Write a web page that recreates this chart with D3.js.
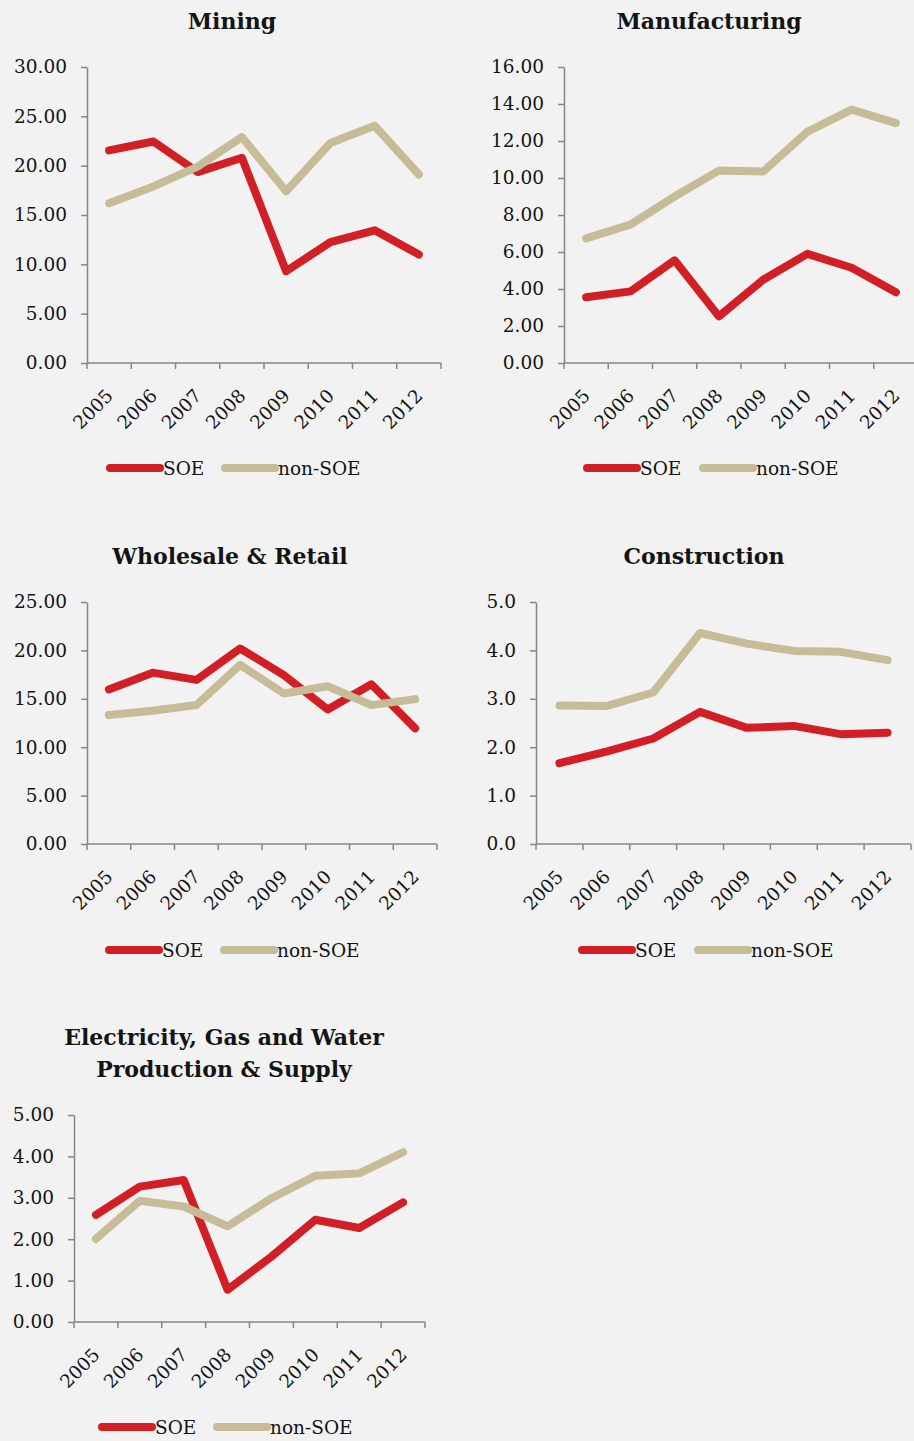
<!DOCTYPE html>
<html lang="en">
<head>
<meta charset="utf-8">
<title>SOE vs non-SOE by sector</title>
<script src="https://cdn.jsdelivr.net/npm/d3@7/dist/d3.min.js"></script>
<style>
  body { margin: 0; background: #f2f2f2; }
  svg { display: block; }
  text { font-family: "DejaVu Serif", "Liberation Serif", serif; fill: #141414; }
</style>
</head>
<body>
<script>
// data
var years = ["2005", "2006", "2007", "2008", "2009", "2010", "2011", "2012"];
var seriesNames = ["SOE", "non-SOE"];

var miningSOE    = [21.55, 22.45, 19.35, 20.8, 9.3, 12.25, 13.45, 11.0];
var miningNonSOE = [16.2, 17.9, 19.9, 22.9, 17.4, 22.3, 24.05, 19.1];

var manufSOE    = [3.55, 3.87, 5.55, 2.52, 4.5, 5.9, 5.15, 3.82];
var manufNonSOE = [6.74, 7.48, 9.0, 10.4, 10.35, 12.5, 13.7, 12.97];

var retailSOE    = [15.97, 17.7, 16.95, 20.2, 17.45, 13.9, 16.5, 11.95];
var retailNonSOE = [13.32, 13.77, 14.35, 18.5, 15.55, 16.3, 14.35, 14.97];

var constrSOE    = [1.67, 1.91, 2.18, 2.73, 2.4, 2.44, 2.27, 2.3];
var constrNonSOE = [2.86, 2.85, 3.13, 4.36, 4.14, 3.99, 3.97, 3.8];

var utilSOE    = [2.59, 3.27, 3.43, 0.78, 1.58, 2.47, 2.27, 2.89];
var utilNonSOE = [2.01, 2.93, 2.79, 2.31, 2.99, 3.53, 3.59, 4.1];

var miningTicks = [0, 5, 10, 15, 20, 25, 30];
var manufTicks  = [0, 2, 4, 6, 8, 10, 12, 14, 16];
var retailTicks = [0, 5, 10, 15, 20, 25];
var constrTicks = [0, 1, 2, 3, 4, 5];
var utilTicks   = [0, 1, 2, 3, 4, 5];

var colors = ["#d11f25", "#c6bc97"];

var svg = d3.select("body").append("svg")
    .attr("width", 914)
    .attr("height", 1441);

svg.append("rect").attr("width", 914).attr("height", 1441).attr("fill", "#f2f2f2");

function drawChart(opt) {
    var g = svg.append("g");

    var x = d3.scaleBand().domain(years).range([opt.left, opt.right]);
    var y = d3.scaleLinear()
        .domain([0, d3.max(opt.ticks)])
        .range([opt.bottom, opt.top]);

    // title
    opt.title.forEach(function (t, i) {
        g.append("text")
            .attr("x", opt.titleX)
            .attr("y", opt.titleY + i * 32)
            .attr("text-anchor", "middle")
            .style("font-size", "22px")
            .style("font-weight", "bold")
            .text(t);
    });

    // y axis
    var yAxis = g.append("g")
        .attr("transform", "translate(" + opt.left + ",0)")
        .call(d3.axisLeft(y)
            .tickValues(opt.ticks)
            .tickFormat(d3.format(opt.fmt))
            .tickSize(6)
            .tickSizeOuter(0)
            .tickPadding(14));
    yAxis.selectAll("path, line").attr("stroke", "#868686").attr("stroke-width", 1.5);
    yAxis.selectAll("text")
        .style("font-size", "18.5px")
        .style("font-family", "'DejaVu Serif', serif")
        .attr("fill", "#141414");

    // x axis: line plus boundary ticks between categories
    var xg = g.append("g");
    xg.append("line")
        .attr("x1", opt.left).attr("x2", opt.right)
        .attr("y1", opt.bottom).attr("y2", opt.bottom)
        .attr("stroke", "#868686").attr("stroke-width", 1.5);
    var bounds = years.map(function (d) { return x(d); }).concat([x(years[years.length - 1]) + x.bandwidth()]);
    xg.selectAll("line.tick")
        .data(bounds)
        .enter()
        .append("line")
        .attr("class", "tick")
        .attr("x1", function (d) { return d; })
        .attr("x2", function (d) { return d; })
        .attr("y1", opt.bottom)
        .attr("y2", opt.bottom + 6)
        .attr("stroke", "#868686").attr("stroke-width", 1.5);
    xg.selectAll("text")
        .data(years)
        .enter()
        .append("text")
        .attr("transform", function (d) {
            return "translate(" + (x(d) + x.bandwidth() / 2 + 5) + "," + (opt.bottom + 34) + ") rotate(-45)";
        })
        .attr("text-anchor", "end")
        .style("font-size", "18.5px")
        .text(function (d) { return d; });

    // lines
    var line = d3.line()
        .x(function (d, i) { return x(years[i]) + x.bandwidth() / 2; })
        .y(function (d) { return y(d); });

    [opt.soe, opt.nonSoe].forEach(function (vals, k) {
        g.append("path")
            .datum(vals)
            .attr("d", line)
            .attr("fill", "none")
            .attr("stroke", colors[k])
            .attr("stroke-width", 8)
            .attr("stroke-linejoin", "round")
            .attr("stroke-linecap", "round");
    });

    // legend
    var leg = g.selectAll("g.legend")
        .data(seriesNames)
        .enter()
        .append("g")
        .attr("transform", function (d, i) {
            return "translate(" + opt.legendX[i] + "," + opt.legendY + ")";
        });
    leg.append("line")
        .attr("x1", 0).attr("x2", 50)
        .attr("stroke", function (d, i) { return colors[i]; })
        .attr("stroke-width", 8)
        .attr("stroke-linecap", "round");
    leg.append("text")
        .attr("x", 53)
        .attr("y", 7)
        .style("font-size", "18.5px")
        .text(function (d) { return d; });
}

drawChart({
    title: ["Mining"], titleX: 232, titleY: 29,
    left: 87, right: 441, top: 67, bottom: 363,
    ticks: miningTicks, fmt: ".2f",
    soe: miningSOE, nonSoe: miningNonSOE,
    legendX: [110, 225], legendY: 468
});

drawChart({
    title: ["Manufacturing"], titleX: 709, titleY: 29,
    left: 564, right: 918, top: 67, bottom: 363,
    ticks: manufTicks, fmt: ".2f",
    soe: manufSOE, nonSoe: manufNonSOE,
    legendX: [587, 703], legendY: 468
});

drawChart({
    title: ["Wholesale & Retail"], titleX: 230, titleY: 564,
    left: 87, right: 437, top: 602, bottom: 844,
    ticks: retailTicks, fmt: ".2f",
    soe: retailSOE, nonSoe: retailNonSOE,
    legendX: [109, 224], legendY: 950
});

drawChart({
    title: ["Construction"], titleX: 704, titleY: 564,
    left: 536, right: 911, top: 602, bottom: 844,
    ticks: constrTicks, fmt: ".1f",
    soe: constrSOE, nonSoe: constrNonSOE,
    legendX: [582, 698], legendY: 950
});

drawChart({
    title: ["Electricity, Gas and Water", "Production & Supply"], titleX: 224, titleY: 1045,
    left: 74, right: 425, top: 1115, bottom: 1322,
    ticks: utilTicks, fmt: ".2f",
    soe: utilSOE, nonSoe: utilNonSOE,
    legendX: [102, 217], legendY: 1427
});
</script>
</body>
</html>
